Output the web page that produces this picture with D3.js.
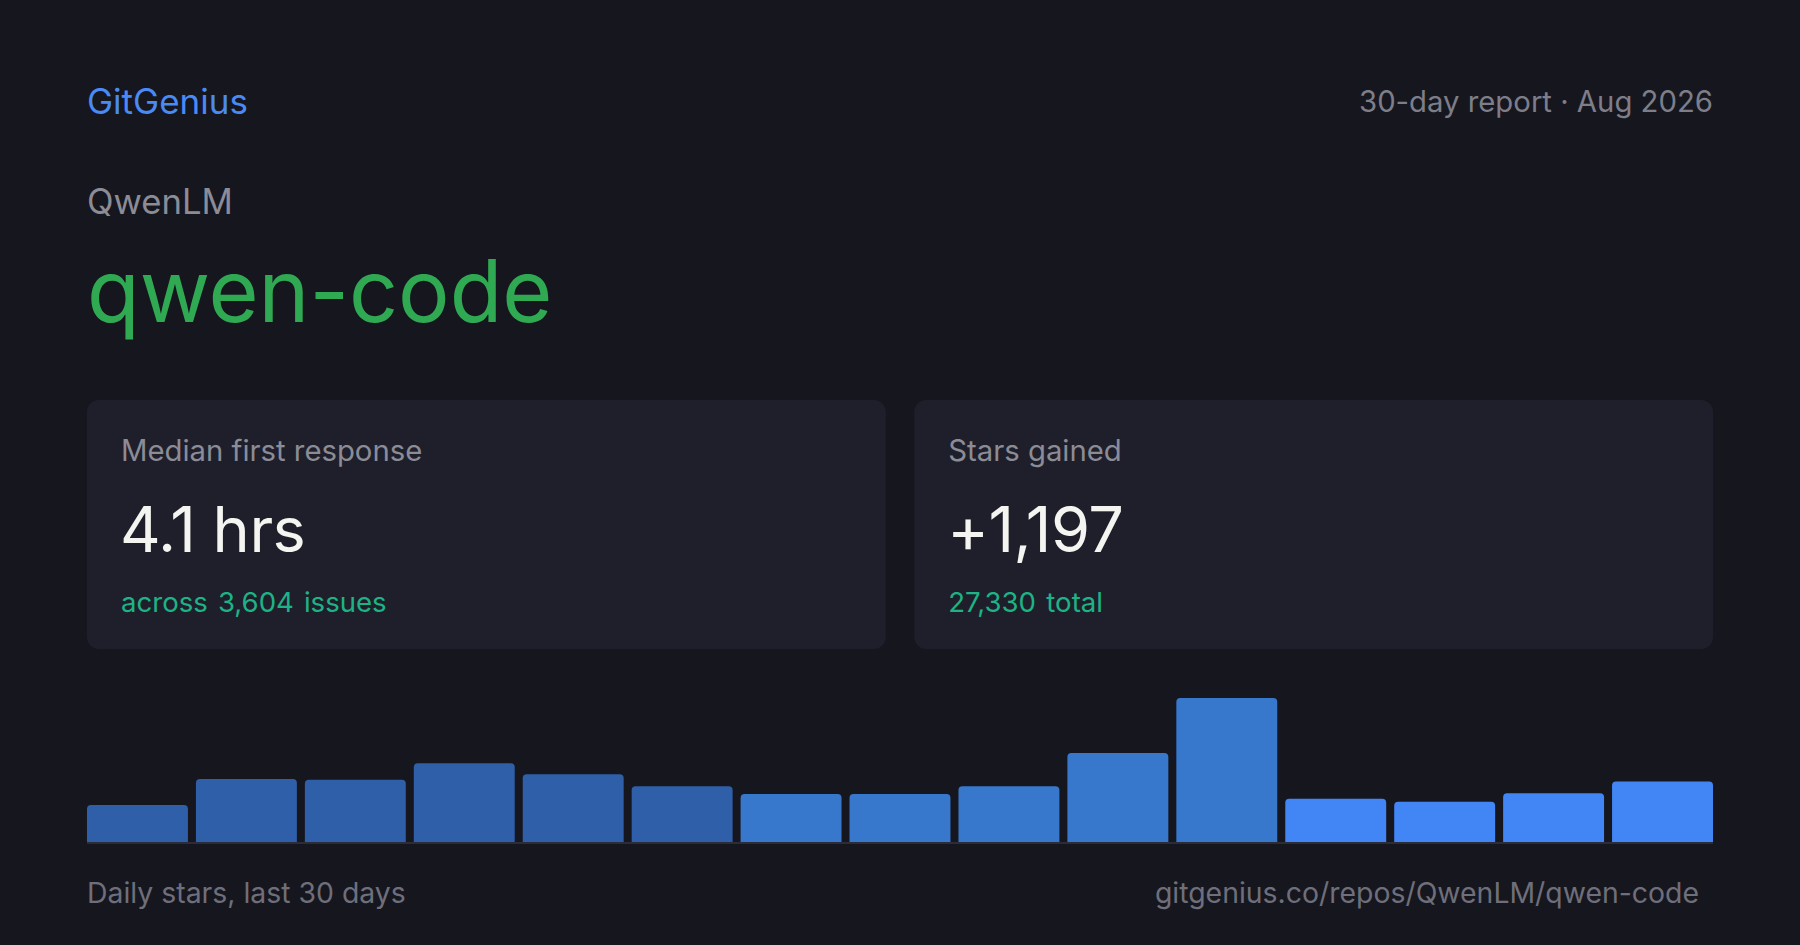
<!DOCTYPE html>
<html>
<head>
<meta charset="utf-8">
<script src="https://cdn.jsdelivr.net/npm/d3@7"></script>
<style>
  html, body { margin: 0; padding: 0; background: #16161f; }
  svg { display: block; font-family: Inter, "Noto Sans", sans-serif; }
</style>
</head>
<body>
<svg id="card"></svg>
<script>
// Report header
const brand = "GitGenius";
const period = "30-day report · Aug 2026";
const owner = "QwenLM";
const repo = "qwen-code";

// Stat cards
const statLabels = ["Median first response", "Stars gained"];
const statValues = ["4.1 hrs", "+1,197"];
const statNotes = [["across", "3,604", "issues"], ["27,330", "total"]];

// Daily stars (15 buckets over the last 30 days)
const dailyStars = [47, 80, 79, 100, 86, 71, 61, 61, 71, 113, 183, 55, 51, 62, 77];

const footLeft = "Daily stars, last 30 days";
const footRight = "gitgenius.co/repos/QwenLM/qwen-code";

const width = 1800, height = 945;
const left = 87, right = 1713;

const svg = d3.select('#card')
    .attr('width', width)
    .attr('height', height);

svg.append('rect')
    .attr('width', width)
    .attr('height', height)
    .attr('fill', '#16161f');

// header
svg.append('text')
    .attr('x', left).attr('y', 114)
    .style('font-size', '35px')
    .attr('fill', '#4a8af4')
    .text(brand);

svg.append('text')
    .attr('x', right).attr('y', 112)
    .attr('text-anchor', 'end')
    .style('font-size', '29.3px')
    .attr('fill', '#7d7e89')
    .text(period);

svg.append('text')
    .attr('x', left).attr('y', 214)
    .style('font-size', '34.7px')
    .attr('fill', '#8b8c96')
    .text(owner);

svg.append('text')
    .attr('x', left).attr('y', 322)
    .style('font-size', '86px')
    .attr('fill', '#2faa52')
    .text(repo);

// stat cards
const cardX = d3.scaleBand()
    .domain(statLabels)
    .range([left, right])
    .paddingInner(28 / 813);

const cards = svg.selectAll('.stat')
    .data(statLabels)
    .enter()
    .append('g')
    .attr('class', 'stat')
    .attr('transform', d => `translate(${cardX(d)}, 400)`);

cards.append('rect')
    .attr('width', cardX.bandwidth())
    .attr('height', 249)
    .attr('rx', 12)
    .attr('fill', '#1f1f2b');

cards.append('text')
    .attr('x', 34).attr('y', 61)
    .style('font-size', '29.3px')
    .attr('fill', '#8b8c96')
    .text(d => d);

cards.append('text')
    .attr('x', 33).attr('y', 152)
    .style('font-size', '63px')
    .style('letter-spacing', '-0.5px')
    .attr('fill', '#f4f4f0')
    .text((d, i) => statValues[i]);

cards.append('text')
    .attr('x', 34).attr('y', 212)
    .style('font-size', '27.6px')
    .attr('fill', '#1db386')
    .selectAll('tspan')
    .data((d, i) => statNotes[i])
    .enter()
    .append('tspan')
    .attr('dx', (d, i) => i === 0 ? 0 : 10)
    .text(d => d);

// bar chart
const baseY = 842, topY = 698;

const x = d3.scaleBand()
    .domain(d3.range(dailyStars.length))
    .range([left, right])
    .paddingInner(8 / 109);

const y = d3.scaleLinear()
    .domain([0, d3.max(dailyStars)])
    .range([baseY, topY]);

const tone = d3.scaleThreshold()
    .domain([6, 11])
    .range(['#2f5fa8', '#3778cc', '#4286f5']);

const r = 4;
function barPath(x0, w, yTop) {
    return `M${x0},${baseY}V${yTop + r}Q${x0},${yTop} ${x0 + r},${yTop}` +
        `H${x0 + w - r}Q${x0 + w},${yTop} ${x0 + w},${yTop + r}V${baseY}Z`;
}

svg.append('g')
    .selectAll('path')
    .data(dailyStars)
    .enter()
    .append('path')
    .attr('d', (d, i) => barPath(x(i), x.bandwidth(), y(d)))
    .attr('fill', (d, i) => tone(i));

svg.append('rect')
    .attr('x', left)
    .attr('y', baseY)
    .attr('width', right - left)
    .attr('height', 2)
    .attr('fill', '#2b2c38');

// footer
svg.append('text')
    .attr('x', left).attr('y', 903)
    .style('font-size', '28.4px')
    .attr('fill', '#6e6f7a')
    .text(footLeft);

svg.append('text')
    .attr('x', 1699).attr('y', 903)
    .attr('text-anchor', 'end')
    .style('font-size', '28.4px')
    .attr('fill', '#6e6f7a')
    .text(footRight);
</script>
</body>
</html>
